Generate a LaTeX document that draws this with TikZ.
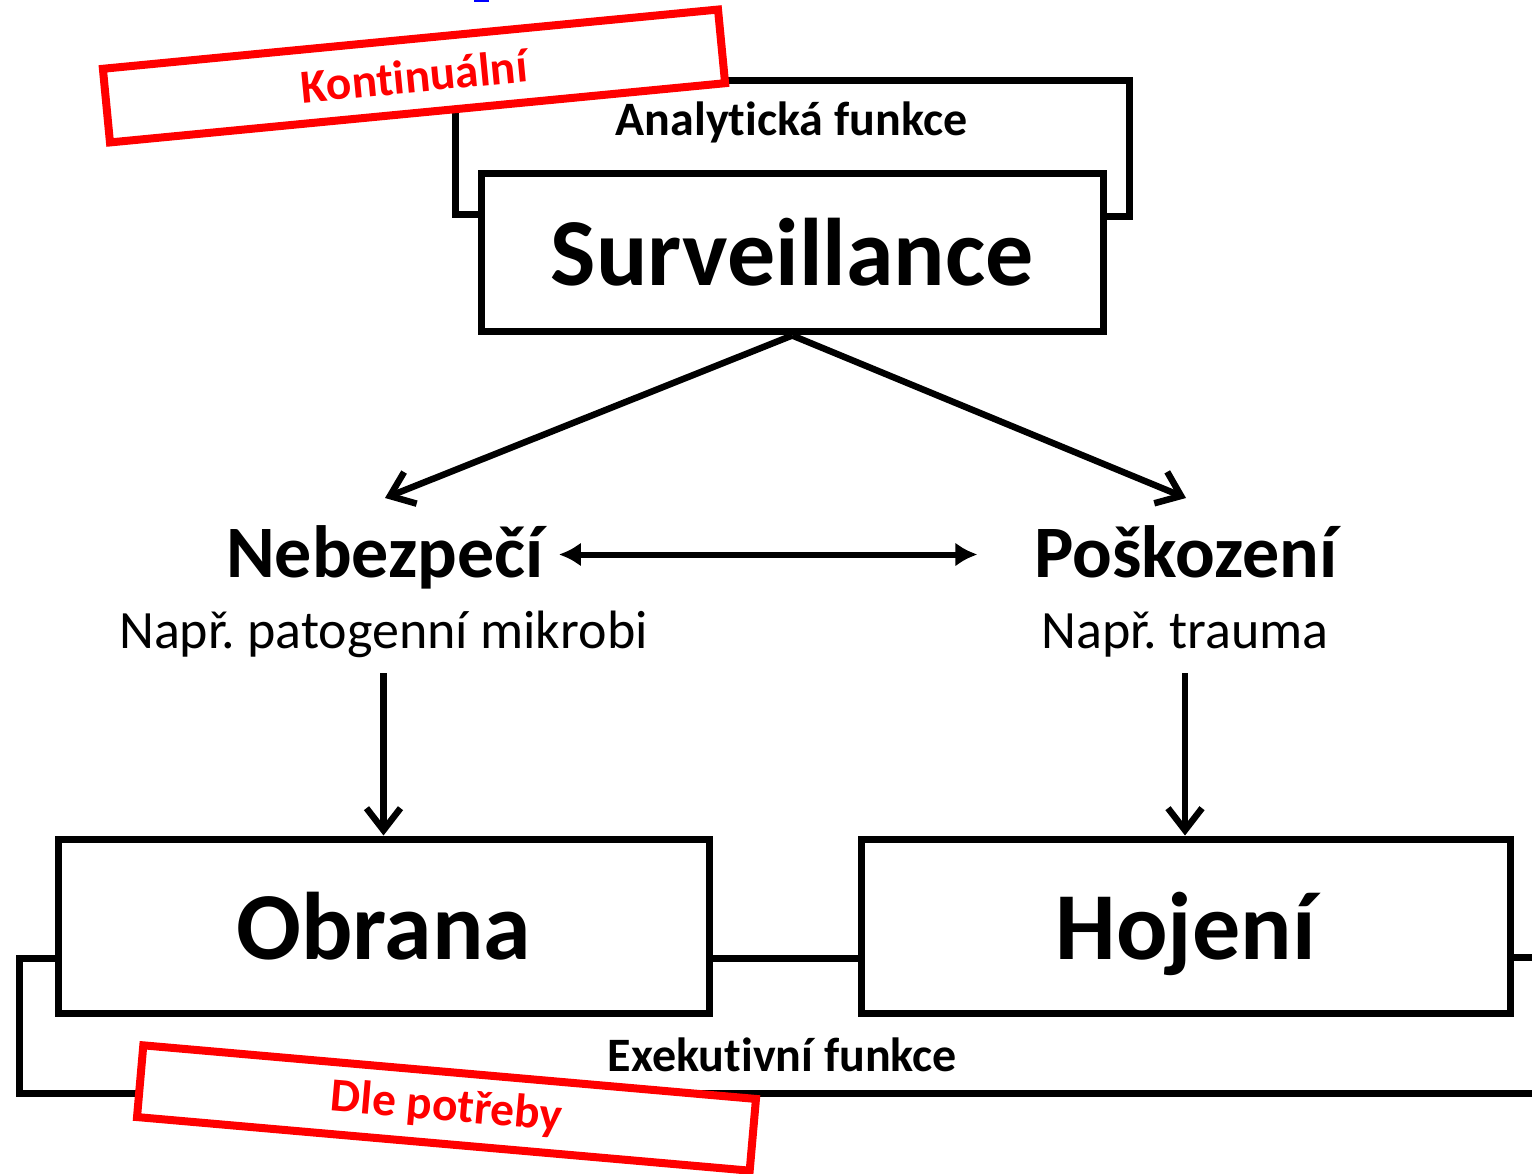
\documentclass[tikz,border=0pt]{standalone}
\usepackage{fontspec}
\setmainfont{Carlito}[Ligatures=NoCommon]
\usetikzlibrary{arrows.meta}
\frenchspacing
\begin{document}
\begin{tikzpicture}[x=1pt,y=-1pt,
  blk/.style={draw=black, line width=7pt, fill=white, inner sep=0pt,
    font=\bfseries\fontsize{96}{110}\selectfont, text height=66pt, text depth=0pt},
  fr/.style={draw=black, line width=7pt},
  lbl/.style={inner sep=0pt, outer sep=0pt, font=\bfseries\fontsize{74}{82}\selectfont, text height=47pt, text depth=0pt},
  sub/.style={inner sep=0pt, outer sep=0pt, font=\fontsize{54}{62}\selectfont, text height=34pt, text depth=0pt},
  fn/.style={inner sep=0pt, outer sep=0pt, font=\bfseries\fontsize{48}{56}\selectfont},
  redbox/.style={draw=red, line width=8pt, fill=white, text=red, inner sep=0pt,
    font=\bfseries\fontsize{47.5}{54}\selectfont},
  arr/.style={draw=black, line width=6.5pt, -{Straight Barb[length=22pt,width=34pt]}},
  darr/.style={draw=black, line width=6pt, {Latex[length=22pt,width=24pt]}-{Latex[length=22pt,width=24pt]}}
]
\useasboundingbox (0,0) rectangle (1532,1174);
\fill[white] (0,0) rectangle (1532,1174);
\fill[blue] (474,0) rectangle (489,2);

% frame coordinates
\coordinate (a0) at (455.5,80.5);
\coordinate (a1) at (455.5,215);
\coordinate (a2) at (1129.5,217);
\coordinate (e1) at (19,958);
\coordinate (e2) at (19,1093);
\coordinate (e3) at (1545,1093);
\coordinate (e4) at (1545,957.5);

% boxes (placed first for anchors)
\node[blk, minimum width=621.5pt, minimum height=158.5pt] (S) at (792.25,252.75) {Surveillance};
\node[blk, minimum width=650.5pt, minimum height=174pt] (O) at (383.75,926) {Obrana};
\node[blk, minimum width=649pt, minimum height=174pt] (H) at (1185.5,926) {Hojení};

% frames
\draw[fr] (S.west |- a1) -- (a1) -- (a0) -- (a2 |- a0) -- (a2) -- (S.east |- a2);
\draw[fr] (O.west |- e1) -- (e1) -- (e2) -- (e3);
\draw[fr] (O.east |- e1) -- (H.west |- e1);
\draw[fr] (H.east |- e4) -- (e4);

% redraw boxes on top of frames
\node[blk, minimum width=621.5pt, minimum height=158.5pt] at (S) {Surveillance};
\node[blk, minimum width=650.5pt, minimum height=174pt] at (O) {Obrana};
\node[blk, minimum width=649pt, minimum height=174pt] at (H) {Hojení};

% labels
\node[fn, anchor=base] (AF) at (791.5,136) {Analytická funkce};
\node[fn, anchor=base] (EF) at (782.5,1071) {Exekutivní funkce};
\node[lbl, anchor=base] (N) at (385,577) {Nebezpečí};
\node[lbl, anchor=base] (P) at (1186,577) {Poškození};
\node[sub, anchor=base] (N1) at (383.5,648) {Např. patogenní mikrobi};
\node[sub, anchor=base] (P1) at (1185,648) {Např. trauma};

% arrows
\draw[arr] (S.south) -- ([yshift=32pt]N.north);
\draw[arr] (S.south) -- ([yshift=32pt]P.north);
\draw[darr] ([xshift=15pt,yshift=-1pt]N.east) -- ([xshift=-57pt,yshift=-1pt]P.west);
\draw[arr] ([yshift=-25pt]N1.south) -- (N1.south |- O.north);
\draw[arr] ([yshift=-25pt]P1.south) -- (P1.south |- H.north);

% red tags
\node[redbox, rotate=5.5, minimum width=618pt, minimum height=74pt] (K) at (414,76) {Kontinuální};
\node[redbox, rotate=-5, minimum width=615pt, minimum height=72pt] (D) at (446.5,1108) {Dle potřeby};
\end{tikzpicture}
\end{document}
